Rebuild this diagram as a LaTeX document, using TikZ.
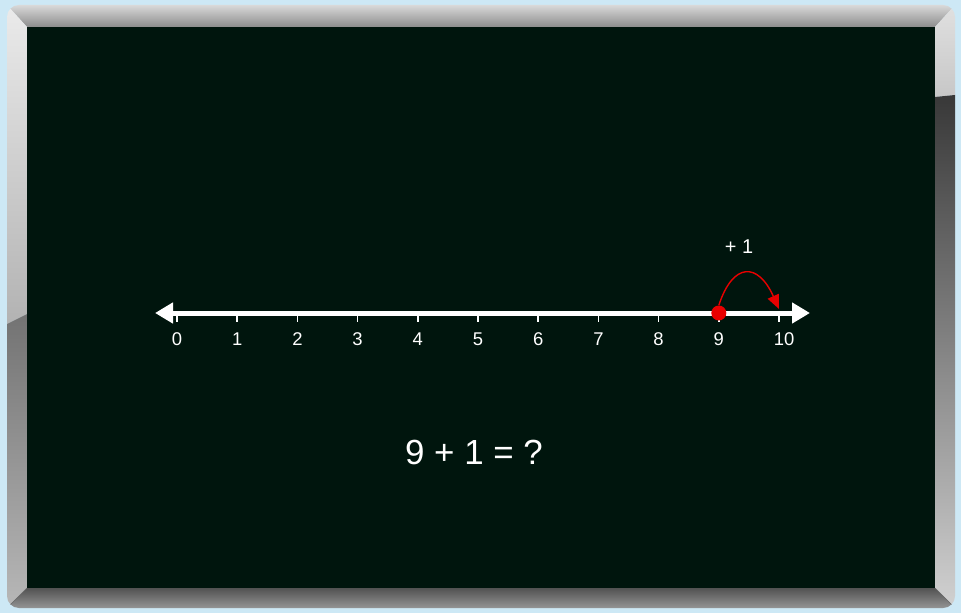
\documentclass[tikz,border=0pt]{standalone}
\usepackage{fontspec}
\setmainfont{Liberation Sans}
\usetikzlibrary{arrows.meta}
\definecolor{skyback}{RGB}{205,232,245}
\definecolor{boardgreen}{RGB}{0,21,13}
\definecolor{chalkred}{RGB}{232,0,0}

\begin{document}
\begin{tikzpicture}[x=1bp, y=-1bp]
    % Background and page size
    \fill[skyback] (0,0) rectangle (961,613);
    \useasboundingbox (0,0) rectangle (961,613);
    % Metal frame
    \begin{scope}
        \clip[rounded corners=12bp] (7,5) rectangle (955,608);
        \shade[top color=black!15, bottom color=black!45] (7,5) -- (955,5) -- (935,27) -- (27,27) -- cycle;
        \shade[top color=black!8, bottom color=black!30] (7,5) -- (27,27) -- (27,314) -- (7,324) -- cycle;
        \shade[top color=black!55, bottom color=black!28] (7,324) -- (27,314) -- (27,588) -- (7,608) -- cycle;
        \shade[top color=black!12, bottom color=black!22] (955,5) -- (935,27) -- (935,97) -- (955,95) -- cycle;
        \shade[top color=black!78, bottom color=black!18] (955,95) -- (935,97) -- (935,588) -- (955,608) -- cycle;
        \shade[top color=black!68, bottom color=black!42] (7,608) -- (27,588) -- (935,588) -- (955,608) -- cycle;
        \draw[black!60, thin] (7,608) -- (27,588) (955,608) -- (935,588);
    \end{scope}
    % Chalkboard
    \fill[boardgreen] (27,27) rectangle (935,588);
    % Number line
    \coordinate (lineL) at (155,313);
    \coordinate (lineR) at (810,313);
    \draw[white, line width=5bp, {Triangle[length=18bp,width=20bp]}-{Triangle[length=18bp,width=20bp]}] (lineL) -- (lineR);
    \foreach \n in {0,...,10} {
        \coordinate (t\n) at ({177+60.2*\n},313);
        \draw[white, line width=1.5bp] (t\n) -- ++(0,9);
        \node[white, font=\fontsize{18.5}{18.5}\selectfont, xshift={(\n==10)*5bp}] (l\n) at ({177+60.2*\n},339) {\n};
    }
    % Jump from 9 to 10
    \node[circle, fill=chalkred, minimum size=15bp, inner sep=0pt] (dot) at (t9) {};
    \coordinate (hop) at (779,309);
    \draw[chalkred, line width=1.4bp, -{Triangle[length=14bp,width=12bp]}] (dot.north) .. controls (733,262) and (758,262) .. (hop);
    \node[white, font=\fontsize{20}{20}\selectfont] (plus) at (739,247) {+ 1};
    % Question
    \node[white, font=\fontsize{35}{35}\selectfont] (question) at (474,452) {9 + 1 = ?};
\end{tikzpicture}
\end{document}
